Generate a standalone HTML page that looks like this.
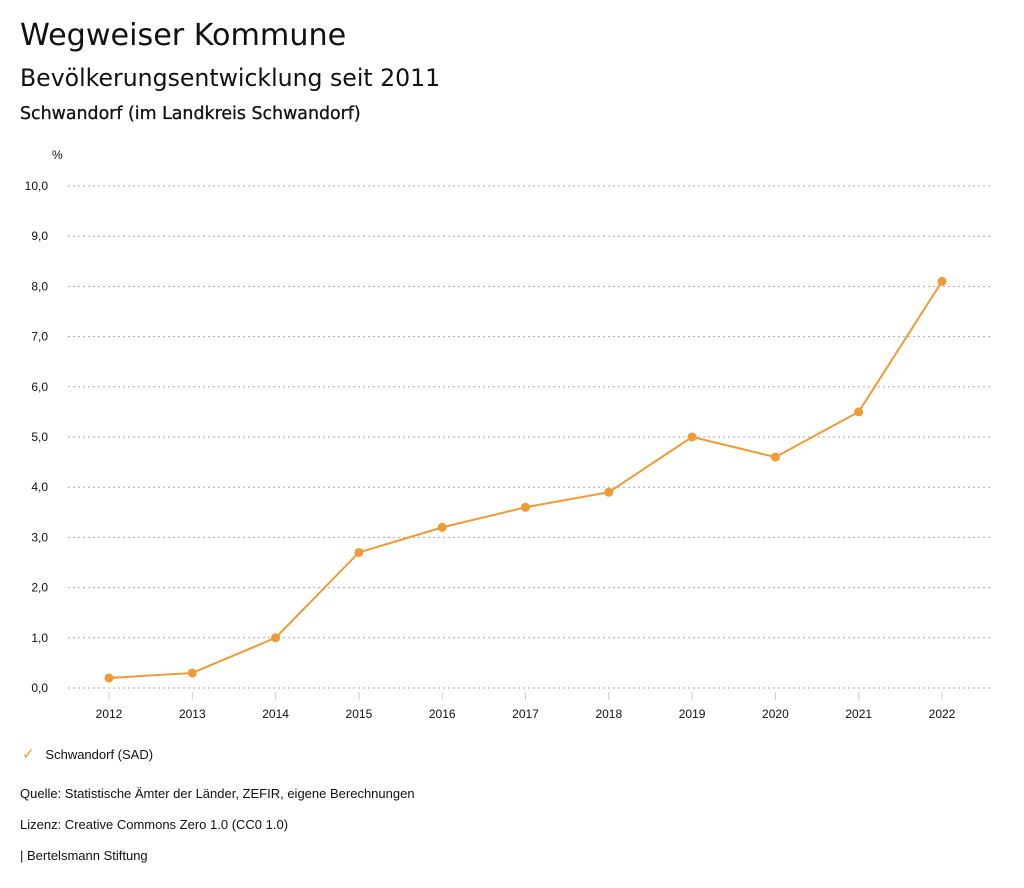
<!DOCTYPE html>
<html><head><meta charset="utf-8"><style>
body{margin:0;background:#fff;font-family:"Liberation Sans","DejaVu Sans",sans-serif;color:#111}
.t{position:absolute;white-space:nowrap}
.d{font-family:"DejaVu Sans","Liberation Sans",sans-serif}
</style></head><body>
<div style="position:relative;width:1024px;height:888px;overflow:hidden">
<div class="t d" style="left:20px;top:18px;font-size:30.2px">Wegweiser Kommune</div>
<div class="t d" style="left:20px;top:64px;font-size:23.6px">Bevölkerungsentwicklung seit 2011</div>
<div class="t d" style="left:20px;top:104px;font-size:17.4px;-webkit-text-stroke:0.3px #111">Schwandorf (im Landkreis Schwandorf)</div>
<svg id="c" width="1024" height="888" style="position:absolute;left:0;top:0"></svg>
<div class="t" style="left:22px;top:745px;font-size:13px"><span style="color:#ef9a35;font-size:15px">✓</span>&nbsp;&nbsp;&nbsp;Schwandorf (SAD)</div>
<div class="t" style="left:20px;top:786px;font-size:13px">Quelle: Statistische Ämter der Länder, ZEFIR, eigene Berechnungen</div>
<div class="t" style="left:20px;top:817px;font-size:13px">Lizenz: Creative Commons Zero 1.0 (CC0 1.0)</div>
<div class="t" style="left:20px;top:848px;font-size:13px">| Bertelsmann Stiftung</div>
</div>
<script>
const years=["2012","2013","2014","2015","2016","2017","2018","2019","2020","2021","2022"];
const values=[0.2,0.3,1.0,2.7,3.2,3.6,3.9,5.0,4.6,5.5,8.1];
const yTicks=[0,1,2,3,4,5,6,7,8,9,10];
const NS="http://www.w3.org/2000/svg";
const svg=document.getElementById('c');
const y=v=>688-v*50.2;
const x=i=>109+i*83.3;
function mk(t,a){const e=document.createElementNS(NS,t);for(const k in a)e.setAttribute(k,a[k]);svg.appendChild(e);return e;}
let u=mk('text',{x:52,y:159,'font-size':12,fill:'#111'});u.textContent='%';


yTicks.forEach(v=>{
 const g=mk('line',{x1:68,x2:990,y1:y(v),y2:y(v),stroke:'#aaa','stroke-dasharray':'2,3'});
 
 
 const t=mk('text',{x:48,y:y(v)+4,'text-anchor':'end','font-size':12,fill:'#111'});
 t.textContent=v.toFixed(1).replace('.',',');
 
 
});
years.forEach((yr,i)=>{
 const l=mk('line',{x1:x(i),x2:x(i),y1:692,y2:700,stroke:'#ccc'});
 
 
 const t=mk('text',{x:x(i),y:718,'text-anchor':'middle','font-size':12,fill:'#111'});
 t.textContent=yr;
 
 
});
const p=mk('polyline',{points:values.map((v,i)=>x(i)+','+y(v)).join(' '),fill:'none',stroke:'#ef9a35','stroke-width':2});


values.forEach((v,i)=>{
 const c=mk('circle',{cx:x(i),cy:y(v),r:4.5,fill:'#ef9a35'});
 
 
});
</script>
</body></html>
